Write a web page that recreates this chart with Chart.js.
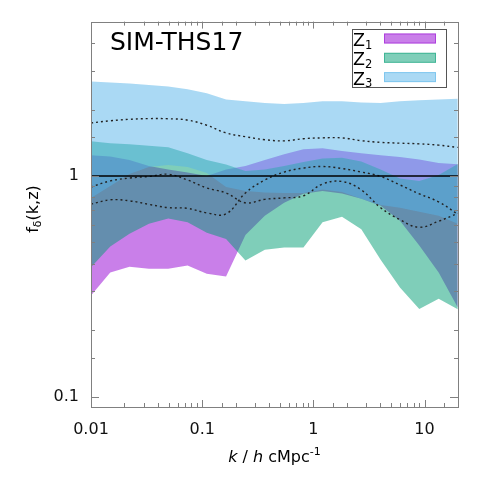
<!DOCTYPE html>
<html>
<head>
<meta charset="utf-8">
<script src="https://cdn.jsdelivr.net/npm/chart.js@4"></script>
<style>
  html, body { margin: 0; padding: 0; background: #fff; }
  #wrap { width: 491px; height: 491px; }
</style>
</head>
<body>
<div id="wrap"><canvas id="chart" width="491" height="491"></canvas></div>
<script>
// wavenumbers (h/cMpc) where the bands are sampled
const kValues = [0.01, 0.0149, 0.0222, 0.0332, 0.0495, 0.0739, 0.110, 0.164, 0.245, 0.366,
                 0.546, 0.814, 1.21, 1.81, 2.70, 4.03, 6.01, 8.97, 13.4, 19.9];

const z1Lower = [0.288, 0.366, 0.388, 0.380, 0.380, 0.393, 0.361, 0.351, 0.540, 0.660,
                 0.756, 0.830, 0.856, 0.834, 0.788, 0.733, 0.627, 0.484, 0.366, 0.254];
const z1Upper = [1.243, 1.224, 1.180, 1.109, 1.070, 1.037, 1.000, 1.070, 1.109, 1.180,
                 1.256, 1.323, 1.337, 1.296, 1.269, 1.243, 1.218, 1.187, 1.144, 1.129];
const z2Lower = [0.386, 0.479, 0.548, 0.608, 0.642, 0.617, 0.554, 0.518, 0.414, 0.464,
                 0.475, 0.475, 0.617, 0.654, 0.574, 0.418, 0.313, 0.250, 0.278, 0.249];
const z2Upper = [1.438, 1.408, 1.394, 1.372, 1.351, 1.269, 1.180, 1.127, 1.053, 1.070,
                 1.109, 1.156, 1.199, 1.211, 1.162, 1.070, 0.974, 0.949, 1.010, 1.132];
const z3Lower = [0.796, 0.901, 1.021, 1.098, 1.121, 1.098, 1.032, 0.892, 0.856, 0.843,
                 0.838, 0.838, 0.869, 0.847, 0.788, 0.740, 0.718, 0.688, 0.660, 0.608];
const z3Upper = [2.68, 2.65, 2.62, 2.58, 2.54, 2.47, 2.37, 2.22, 2.18, 2.14,
                 2.12, 2.14, 2.18, 2.18, 2.15, 2.14, 2.18, 2.20, 2.22, 2.24];

// medians (dotted)
const z1Median = [0.746, 0.780, 0.772, 0.744, 0.719, 0.714, 0.681, 0.674, 0.838, 0.959,
                  1.042, 1.086, 1.104, 1.081, 1.042, 0.995, 0.911, 0.830, 0.764, 0.671];
const z2Median = [0.892, 0.950, 0.979, 0.995, 1.018, 0.959, 0.883, 0.838, 0.756, 0.784,
                  0.796, 0.813, 0.920, 0.944, 0.865, 0.718, 0.634, 0.586, 0.624, 0.678];
const z3Median = [1.739, 1.778, 1.806, 1.819, 1.816, 1.791, 1.697, 1.567, 1.506, 1.460,
                  1.442, 1.475, 1.488, 1.488, 1.445, 1.420, 1.408, 1.398, 1.379, 1.347];

const kRange = [0.01, 20];
const unity = [1, 1];

const seriesNames = ['Z1', 'Z2', 'Z3'];
const seriesColors = ['rgba(148,0,211,0.5)', 'rgba(0,158,115,0.5)', 'rgba(86,180,233,0.5)'];

const FONT = '"DejaVu Sans", sans-serif';

function toPoints(vals, xs) {
    xs = xs || kValues;
    return vals.map((v, i) => ({ x: xs[i], y: v }));
}

function isDecade(v) {
    const l = Math.log10(v);
    return Math.abs(l - Math.round(l)) < 1e-6;
}

function bandPair(upper, lower, color) {
    return [
        { data: toPoints(upper), borderWidth: 0, pointRadius: 0, fill: '+1', backgroundColor: color, tension: 0 },
        { data: toPoints(lower), borderWidth: 0, pointRadius: 0, fill: false, tension: 0 }
    ];
}

function medianLine(vals) {
    return { data: toPoints(vals), borderColor: '#222', borderWidth: 1.4, borderDash: [2, 3],
             pointRadius: 0, fill: false, tension: 0.4 };
}

// drawn from last to first, so bands listed last end up underneath
const datasets = [
    { data: toPoints(unity, kRange), borderColor: '#000', borderWidth: 1.5, pointRadius: 0, fill: false },
    medianLine(z3Median),
    medianLine(z2Median),
    medianLine(z1Median),
    ...bandPair(z3Upper, z3Lower, seriesColors[2]),
    ...bandPair(z2Upper, z2Lower, seriesColors[1]),
    ...bandPair(z1Upper, z1Lower, seriesColors[0])
];

function drawPieces(ctx, pieces, x, y) {
    pieces.forEach(p => {
        ctx.font = p.font;
        ctx.fillText(p.t, x, y + (p.dy || 0));
        x += ctx.measureText(p.t).width;
    });
}

function piecesWidth(ctx, pieces) {
    let w = 0;
    pieces.forEach(p => { ctx.font = p.font; w += ctx.measureText(p.t).width; });
    return w;
}

const overlay = {
    id: 'overlay',
    afterDraw(chart) {
        const { ctx, chartArea: a, scales: { x, y } } = chart;
        ctx.save();

        // frame and inward ticks
        ctx.strokeStyle = '#808080';
        ctx.lineWidth = 1;
        ctx.strokeRect(Math.round(a.left) + 0.5, Math.round(a.top) + 0.5,
                       Math.round(a.right - a.left), Math.round(a.bottom - a.top));
        ctx.beginPath();
        x.ticks.forEach(t => {
            const px = Math.round(x.getPixelForValue(t.value)) + 0.5;
            if (px <= a.left + 2 || px >= a.right - 2) return;
            const len = isDecade(t.value) ? 7 : 4;
            ctx.moveTo(px, a.bottom); ctx.lineTo(px, a.bottom - len);
            ctx.moveTo(px, a.top); ctx.lineTo(px, a.top + len);
        });
        y.ticks.forEach(t => {
            const py = Math.round(y.getPixelForValue(t.value)) + 0.5;
            if (py <= a.top + 2 || py >= a.bottom - 2) return;
            const len = isDecade(t.value) ? 8 : 4;
            ctx.moveTo(a.left, py); ctx.lineTo(a.left + len, py);
            ctx.moveTo(a.right, py); ctx.lineTo(a.right - len, py);
        });
        ctx.stroke();

        ctx.fillStyle = '#000';
        ctx.textBaseline = 'alphabetic';
        ctx.textAlign = 'left';

        // title inside the plot
        ctx.font = '25px ' + FONT;
        ctx.fillText('SIM-THS17', 110, 50);

        // legend
        ctx.strokeStyle = '#555';
        ctx.strokeRect(352.5, 29.5, 94, 58);
        seriesNames.forEach((name, i) => {
            const base = 46 + i * 19.3;
            drawPieces(ctx, [
                { t: name[0], font: '17.5px ' + FONT },
                { t: name.slice(1), font: '11.5px ' + FONT, dy: 2.5 }
            ], 353, base);
            ctx.fillStyle = seriesColors[i];
            ctx.strokeStyle = seriesColors[i];
            ctx.fillRect(384, 33.5 + i * 19.3, 52, 10);
            ctx.strokeRect(384.5, 34 + i * 19.3, 51, 9);
            ctx.fillStyle = '#000';
        });

        // x axis title
        const xt = [
            { t: 'k', font: 'italic 16px ' + FONT },
            { t: ' / ', font: '16px ' + FONT },
            { t: 'h', font: 'italic 16px ' + FONT },
            { t: ' cMpc', font: '16px ' + FONT },
            { t: '-1', font: '11px ' + FONT, dy: -7 }
        ];
        const xw = piecesWidth(ctx, xt);
        drawPieces(ctx, xt, (a.left + a.right) / 2 - xw / 2, 462);

        // y axis title
        const yt = [
            { t: 'f', font: '16px ' + FONT },
            { t: 'δ', font: '11px ' + FONT, dy: 3 },
            { t: '(k,z)', font: '16px ' + FONT }
        ];
        const yw = piecesWidth(ctx, yt);
        ctx.translate(38, 209);
        ctx.rotate(-Math.PI / 2);
        drawPieces(ctx, yt, -yw / 2, 0);

        ctx.restore();
    }
};

const tickFont = { family: 'DejaVu Sans', size: 16 };

new Chart(document.getElementById('chart'), {
    type: 'line',
    data: { datasets: datasets },
    options: {
        responsive: false,
        animation: false,
        devicePixelRatio: 1,
        layout: { padding: { top: 20, right: 33, left: 0, bottom: 0 } },
        plugins: {
            legend: { display: false },
            tooltip: { enabled: false },
            filler: { propagate: false }
        },
        scales: {
            x: {
                type: 'logarithmic',
                min: 0.01,
                max: 20,
                grid: { display: false, drawTicks: false },
                border: { display: false },
                ticks: {
                    autoSkip: false,
                    maxRotation: 0,
                    padding: 13,
                    color: '#111',
                    font: tickFont,
                    callback: v => isDecade(v) ? String(Number(v.toPrecision(3))) : ''
                },
                afterFit: s => { s.height = 84; }
            },
            y: {
                type: 'logarithmic',
                min: 0.09,
                max: 5,
                grid: { display: false, drawTicks: false },
                border: { display: false },
                ticks: {
                    autoSkip: false,
                    padding: 12,
                    color: '#111',
                    font: tickFont,
                    callback: v => isDecade(v) ? String(Number(v.toPrecision(3))) : ''
                },
                afterFit: s => { s.width = 91; }
            }
        }
    },
    plugins: [overlay]
});
</script>
</body>
</html>
